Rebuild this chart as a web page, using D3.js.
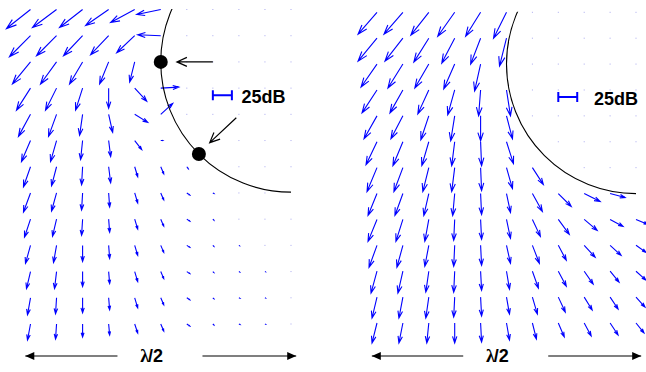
<!DOCTYPE html>
<html>
<head>
<meta charset="utf-8">
<script src="https://cdn.jsdelivr.net/npm/d3@7"></script>
<style>
  body { margin: 0; background: #fff; }
  svg { display: block; }
</style>
</head>
<body>
<div id="chart"></div>
<script>
// Grid: 13 rows x 11 columns per panel. null = no mark (point lies on the circle),
// 0/0 = zero field (drawn as a faint dot). Units: 26 units = one grid spacing.
const leftU = [
  [-24, -24, -23, -23, -24, -24, 0, 0, 0, 0, 0],
  [-21, -20, -19, -18, -18, -23, 0, 0, 0, 0, 0],
  [-18, -16, -13, -9, -5, null, 0, 0, 0, 0, 0],
  [-14, -11, -7, 0, 12, 18, 0, 0, 0, 0, 0],
  [-12, -8, -3, 4, 13, 12, 0, 0, 0, 0, 0],
  [-9, -6, -2, 2, 7, 2, null, 0, 0, 0, 0],
  [-7, -5, -1, 2, 3, 3, 1.5, null, 0, 0, 0],
  [-7, -5, -1, 1, 3, 3, 3, 1, 0, 0, null],
  [-6, -4, -1, 1, 3, 3, 3, 1, 0, 0, 0],
  [-5, -3, 0, 1, 3, 3, 3, 1, 0.5, 0, 0],
  [-4, -2, 0, 1, 3, 3, 3, 1, 0.8, 0.4, 0],
  [-3, -1, 0, 1, 3, 3, 3, 1, 1, 0.5, 0],
  [-3, -1, 0, 1, 3, 3, 3, 1, 1, 0.6, 0]
];
const leftV = [
  [19, 18, 18, 16, 13, 5, 0, 0, 0, 0, 0],
  [21, 20, 20, 19, 17, -1, 0, 0, 0, 0, 0],
  [22, 22, 22, 22, 20, null, 0, 0, 0, 0, 0],
  [22, 22, 22, 20, 13, -1, 0, 0, 0, 0, 0],
  [22, 22, 21, 18, 8, -11, 0, 0, 0, 0, 0],
  [21, 21, 19, 16, 9, 0, null, 0, 0, 0, 0],
  [20, 19, 18, 16, 10, 7, 2, null, 0, 0, 0],
  [19, 18, 17, 14, 10, 7, 2, 0.5, 0, 0, null],
  [18, 17, 16, 13, 10, 7, 2, 1, 0, 0, 0],
  [18, 17, 16, 13, 10, 7, 2, 1, 0.3, 0, 0],
  [17, 17, 15, 12, 10, 7, 2, 1, 0.5, 0.2, 0],
  [17, 16, 15, 12, 10, 7, 2, 1, 0.5, 0.3, 0],
  [16, 15, 13, 11, 9, 7, 2, 1, 0.5, 0.3, 0]
];
const rightU = [
  [-19, -19, -18, -17, -15, -13, 0, 0, 0, 0, 0],
  [-19, -18, -15, -13, -10, -7, 0, 0, 0, 0, 0],
  [-16, -15, -14, -11, -6, null, 0, 0, 0, 0, 0],
  [-15, -13, -11, -7, -2, 4, 0, 0, 0, 0, 0],
  [-13, -12, -8, -4, 0, 6, 0, 0, 0, 0, 0],
  [-11, -10, -7, -3, 1, 7, null, 0, 0, 0, 0],
  [-10, -9, -6, -3, 1, 6, 11, null, 0, 0, 0],
  [-9, -8, -5, -2, 1, 4, 10, 13, 16, 15, null],
  [-9, -7, -4, -1, 1, 4, 8, 11, 13, 13, 12],
  [-8, -6, -4, -1, 1, 4, 7, 8, 11, 11, 10],
  [-6, -5, -3, -1, 1, 3, 6, 8, 9, 9, 10],
  [-5, -4, -3, -1, 1, 3, 5, 7, 8, 8, 9],
  [-5, -4, -2, 0, 1, 3, 4, 6, 7, 8, 8]
];
const rightV = [
  [22, 22, 23, 24, 24, 26, 0, 0, 0, 0, 0],
  [23, 23, 24, 25, 26, 28, 0, 0, 0, 0, 0],
  [23, 24, 24, 25, 27, null, 0, 0, 0, 0, 0],
  [23, 23, 24, 25, 26, 26, 0, 0, 0, 0, 0],
  [23, 23, 24, 25, 25, 23, 0, 0, 0, 0, 0],
  [23, 24, 24, 24, 24, 22, null, 0, 0, 0, 0],
  [24, 24, 24, 24, 23, 21, 17, null, 0, 0, 0],
  [22, 22, 22, 22, 21, 19, 18, 13, 8, 4, null],
  [22, 22, 22, 21, 20, 19, 17, 15, 11, 7, 5],
  [22, 22, 21, 21, 20, 18, 18, 15, 12, 10, 7],
  [22, 22, 21, 21, 19, 18, 17, 15, 13, 11, 9],
  [21, 21, 21, 20, 19, 17, 17, 15, 13, 12, 10],
  [20, 20, 20, 20, 19, 17, 16, 14, 13, 12, 10]
];

// circle: centre at grid (10, 2), radius 5 spacings
const circleCenter = [10, 2];
const circleRadius = 5;
// source markers on the circle (angles in degrees) and pointer arrows (grid units)
const markerAngles = [180, 225];
const pointers = [
  { from: [7.0, 2.0], to: [5.62, 2.0] },
  { from: [7.9, 4.13], to: [6.88, 5.08] }
];
const scaleLabel = '25dB';
const scaleValue = 19;          // bar length, in arrow units
const spanLabel = ['λ', '/2'];

const W = 646, H = 372;
const svg = d3.select('#chart').append('svg')
  .attr('width', W).attr('height', H);
svg.append('rect').attr('width', W).attr('height', H).attr('fill', '#fff');

const panels = [
  { id: 'L', U: leftU, V: leftV, x0: 30.5, x1: 291, y0: 9.5, y1: 324,
    markers: true, labelX: 241.5, spanY: 356 },
  { id: 'R', U: rightU, V: rightV, x0: 377, x1: 636, y0: 12.3, y1: 323,
    markers: false, labelX: 594, spanY: 356 }
];

function quiverPath(x0, y0, u, v) {
  const a = 0.33, b = 0.33;
  const x1 = x0 + u, y1 = y0 + v;
  const hx1 = x1 - a * (u + b * v), hy1 = y1 - a * (v - b * u);
  const hx2 = x1 - a * (u - b * v), hy2 = y1 - a * (v + b * u);
  return `M${x0},${y0}L${x1},${y1}M${hx1},${hy1}L${x1},${y1}L${hx2},${hy2}`;
}

panels.forEach(p => {
  const x = d3.scaleLinear().domain([0, 10]).range([p.x0, p.x1]);
  const y = d3.scaleLinear().domain([0, 12]).range([p.y0, p.y1]);
  const vec = d3.scaleLinear().domain([0, 26]).range([0, x(1) - x(0)]);
  const g = svg.append('g');

  const cells = [];
  p.U.forEach((row, r) => row.forEach((u, c) => {
    if (u !== null) cells.push({ r, c, u, v: p.V[r][c] });
  }));

  // zero-field grid points
  g.selectAll('rect.dot')
    .data(cells.filter(d => d.u === 0 && d.v === 0))
    .join('rect')
    .attr('x', d => x(d.c) - 0.5)
    .attr('y', d => y(d.r) - 0.5)
    .attr('width', 1).attr('height', 1)
    .attr('fill', '#a9a9ee');

  // field arrows
  g.selectAll('path.arrow')
    .data(cells.filter(d => d.u !== 0 || d.v !== 0))
    .join('path')
    .attr('d', d => quiverPath(x(d.c), y(d.r), vec(d.u), vec(d.v)))
    .attr('fill', 'none')
    .attr('stroke', '#0000ff')
    .attr('stroke-width', 1.1);

  // circle arc, clipped to the grid area
  const clipId = 'clip' + p.id;
  svg.append('clipPath').attr('id', clipId)
    .append('rect')
    .attr('x', x(-1)).attr('y', y(0) - 0.5)
    .attr('width', x(10) - x(-1)).attr('height', y(12) - y(0));
  const cx = x(circleCenter[0]), cy = y(circleCenter[1]);
  const rad = x(circleRadius) - x(0);
  svg.append('circle')
    .attr('clip-path', `url(#${clipId})`)
    .attr('cx', cx).attr('cy', cy).attr('r', rad)
    .attr('fill', 'none').attr('stroke', '#000').attr('stroke-width', 1.1);

  if (p.markers) {
    svg.selectAll(null)
      .data(markerAngles)
      .join('circle')
      .attr('cx', a => cx + rad * Math.cos(a * Math.PI / 180))
      .attr('cy', a => cy - rad * Math.sin(a * Math.PI / 180))
      .attr('r', 7)
      .attr('fill', '#000');

    svg.selectAll(null)
      .data(pointers)
      .join('path')
      .attr('d', d => {
        const x0 = x(d.from[0]), y0 = y(d.from[1]);
        const x1 = x(d.to[0]), y1 = y(d.to[1]);
        const ang = Math.atan2(y1 - y0, x1 - x0);
        const hl = 10, hw = 4.5;
        const bx = x1 - hl * Math.cos(ang), by = y1 - hl * Math.sin(ang);
        const nx = -Math.sin(ang) * hw, ny = Math.cos(ang) * hw;
        return `M${x0},${y0}L${x1},${y1}M${bx + nx},${by + ny}L${x1},${y1}L${bx - nx},${by - ny}`;
      })
      .attr('fill', 'none')
      .attr('stroke', '#000')
      .attr('stroke-width', 1.2);
  }

  // 25dB scale bar
  const barY = y(3.27);
  const bx0 = x(7.0), bx1 = bx0 + vec(scaleValue);
  svg.append('path')
    .attr('d', `M${bx0},${barY}L${bx1},${barY}M${bx0},${barY - 5}L${bx0},${barY + 5}M${bx1},${barY - 5}L${bx1},${barY + 5}`)
    .attr('fill', 'none').attr('stroke', '#0000ff').attr('stroke-width', 2);
  svg.append('text')
    .attr('x', p.labelX).attr('y', barY + 8)
    .attr('font-family', 'Liberation Sans, Arial, sans-serif')
    .attr('font-weight', 'bold').attr('font-size', 18)
    .attr('fill', '#000')
    .text(scaleLabel);

  // λ/2 span arrow
  const sy = p.spanY;
  const sL = x(-0.2), sR = x(10.2);
  const gc = x(4.97), gap = 42.5;
  const tc = x(4.65);
  svg.append('path')
    .attr('d', `M${sL},${sy}L${gc - gap},${sy}M${gc + gap},${sy}L${sR},${sy}`)
    .attr('stroke', '#000').attr('stroke-width', 1.1);
  svg.append('path')
    .attr('d', `M${sL},${sy}L${sL + 9},${sy - 4}L${sL + 9},${sy + 4}Z M${sR},${sy}L${sR - 9},${sy - 4}L${sR - 9},${sy + 4}Z`)
    .attr('fill', '#000');
  const t = svg.append('text')
    .attr('x', tc).attr('y', sy + 6)
    .attr('text-anchor', 'middle')
    .attr('font-weight', 'bold').attr('font-size', 18)
    .attr('fill', '#000');
  t.append('tspan')
    .attr('font-family', 'Liberation Serif, serif')
    .text(spanLabel[0]);
  t.append('tspan')
    .attr('dx', -1)
    .attr('font-family', 'Liberation Sans, Arial, sans-serif')
    .text(spanLabel[1]);
});
</script>
</body>
</html>
